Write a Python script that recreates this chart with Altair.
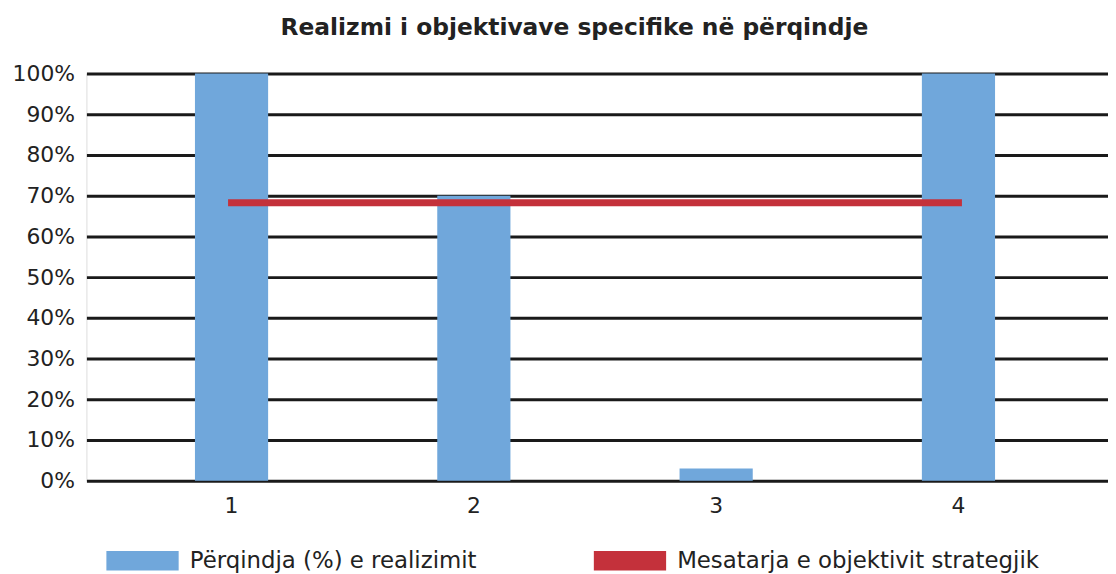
import altair as alt
import pandas as pd

categories = ["1", "2", "3", "4"]
realization = [1.00, 0.70, 0.03, 1.00]
avg_x = ["1", "4"]
avg_y = [0.6825, 0.6825]
series_bar = "Përqindja (%) e realizimit"
series_line = "Mesatarja e objektivit strategjik"
title_text = "Realizmi i objektivave specifike në përqindje"

bars_df = pd.DataFrame({"cat": categories, "val": realization, "series": series_bar})
line_df = pd.DataFrame({"cat": avg_x, "val": avg_y, "series": series_line})

FONT = "DejaVu Sans"
color = alt.Color(
    "series:N",
    scale=alt.Scale(domain=[series_bar, series_line], range=["#70a7db", "#c4313b"]),
    legend=alt.Legend(
        title=None,
        orient="none",
        direction="horizontal",
        legendX=20,
        legendY=454,
        symbolType="M-1,-0.27L1,-0.27L1,0.27L-1,0.27Z",
        symbolSize=5300,
        symbolStrokeWidth=0,
        labelFontSize=23,
        labelFont=FONT,
        labelColor="#222222",
        labelLimit=0,
        columnPadding=117,
        labelOffset=11,
        symbolOpacity=1,
    ),
)

x = alt.X(
    "cat:N",
    sort=categories,
    title=None,
    scale=alt.Scale(paddingInner=0.698, paddingOuter=0.457, align=0.49),
    axis=alt.Axis(labelAngle=0, ticks=False, domain=False, labelFontSize=22,
                  labelFont=FONT, labelColor="#222222", labelPadding=15),
)
y = alt.Y(
    "val:Q",
    title=None,
    scale=alt.Scale(domain=[0, 1]),
    axis=alt.Axis(format="%", values=[i / 10 for i in range(11)], ticks=False, domain=False,
                  gridColor="#1a1a1a", gridWidth=3, gridOpacity=1, labelFontSize=22,
                  labelFont=FONT, labelColor="#222222", labelPadding=12),
)

bars = alt.Chart(bars_df).mark_bar(opacity=1).encode(x=x, y=y, color=color)
line = alt.Chart(line_df).mark_line(strokeWidth=7, strokeCap="square").encode(x=x, y=y, color=color)

chart = (
    alt.layer(bars, line)
    .properties(
        width=1029,
        height=410,
        title=alt.TitleParams(title_text, font=FONT, fontSize=23.5, fontWeight="bold",
                              color="#222222", anchor="middle", offset=23, dx=-23),
        padding={"left": 4, "top": 6, "right": 0, "bottom": 5},
    )
    .configure_view(stroke=None)
    .configure(background="white")
)

chart.save("out.html", embed_options={"renderer": "svg", "actions": False})
